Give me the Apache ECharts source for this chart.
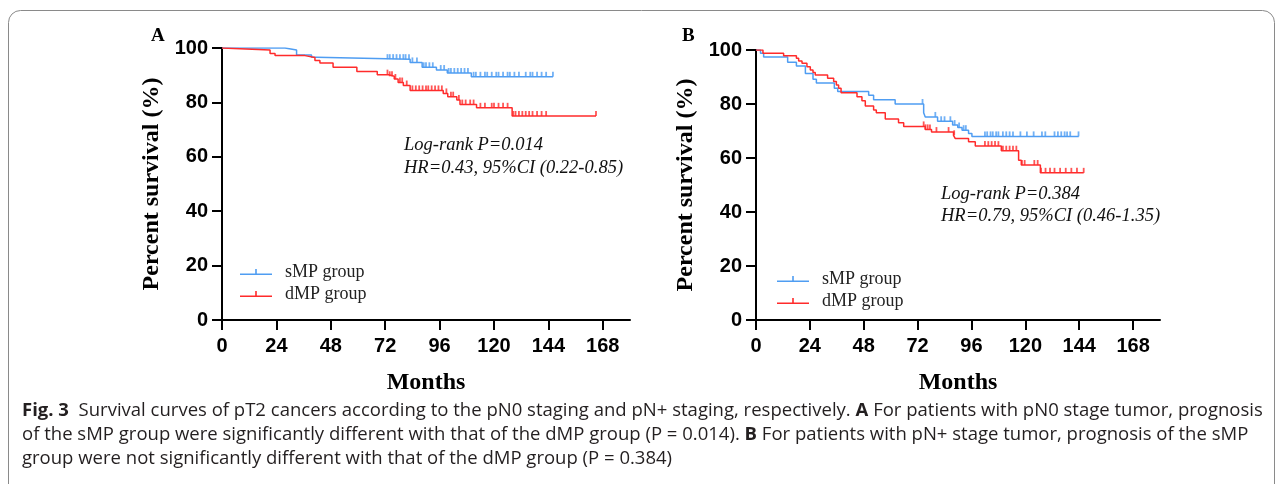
<!DOCTYPE html>
<html>
<head>
<meta charset="utf-8">
<script src="https://cdn.jsdelivr.net/npm/echarts@6/dist/echarts.min.js"></script>
<style>
  html, body { margin: 0; padding: 0; background: #fff; }
  #chart { width: 1281px; height: 484px; }
</style>
</head>
<body>
<div id="chart"></div>
<script>
// axis ticks
const monthTicks = [0, 24, 48, 72, 96, 120, 144, 168]
const percentTicks = [0, 20, 40, 60, 80, 100]

// panel A (pN0) - step points
const aSmpTime = [0, 27.8, 32.9, 39.5, 41.7, 83, 88.3, 94.6, 99.4, 110, 146]
const aSmpSurv = [100, 99.3, 97.4, 96.6, 95.9, 94.7, 92.9, 91.9, 90.8, 89.4, 89.4]
const aSmpCensor = [73, 74, 75.5, 77, 78.5, 80, 81, 82.5, 84, 86, 89, 90, 91.5, 93, 96.5, 98,
  100, 101, 102.5, 104, 105.5, 107, 108.5, 111, 112, 114, 116, 117, 119, 121, 122, 124, 126,
  127, 129, 131, 134, 136, 137, 139, 141, 143, 146]

const aDmpTime = [0, 0.5, 21.2, 23.4, 36.6, 41, 43.2, 49, 59.5, 68.5, 73.5, 76, 77.7, 80, 83,
  97.6, 99.6, 103.6, 105, 112.3, 128, 165]
const aDmpSurv = [100, 99.3, 98, 97.2, 96.5, 95.4, 94.5, 92.9, 91.4, 90.2, 89.6, 88.6, 87.3,
  86.2, 84.4, 83.3, 82.1, 80.9, 79.2, 78, 75, 75]
const aDmpCensor = [73, 74, 75, 76.5, 78.5, 79.5, 81.5, 84, 85.5, 87, 88.5, 90, 91, 92.5, 94,
  95.5, 97, 99, 101, 102, 104.5, 106, 107.5, 109.5, 111, 114, 116, 119, 120, 122, 124, 126,
  128.5, 129.5, 131, 132.5, 134, 135.5, 137, 139, 141, 143, 165]

// panel B (pN+)
const bSmpTime = [0, 2, 3.4, 14.1, 18, 22, 25.4, 26.9, 34.9, 36.4, 50.2, 52.4, 62, 74.7, 75.4,
  80.9, 87.6, 89.9, 91.8, 94.7, 96.2, 143.8]
const bSmpSurv = [100, 98.8, 97.4, 95.5, 94.1, 91.3, 89.2, 87.8, 85.8, 84.6, 83.2, 81.6, 80,
  76.8, 75.2, 73.6, 72.2, 71.3, 70.3, 69.1, 68, 68]
const bSmpCensor = [74.2, 79.9, 82.5, 84, 86.6, 88.5, 90.5, 92.5, 93.5, 102, 103, 104.5, 105.5,
  107, 108, 110, 111.5, 113, 114.5, 117.8, 120.7, 123.7, 127.4, 128.9, 133, 134.5, 136, 137.5,
  138.6, 140, 143.7]

const bDmpTime = [0, 3.1, 12.3, 18, 19, 20.5, 22.7, 24.2, 25.4, 26.4, 31.9, 34.6, 35.8, 36.8,
  37.9, 45, 47.2, 48.7, 52.4, 53.6, 57.6, 63.5, 65.8, 75.4, 78.2, 88, 88.8, 94.7, 97.7, 109.3,
  117, 118.2, 126.7, 146]
const bDmpSurv = [100, 98.8, 97.9, 96.9, 95.9, 95.1, 93.8, 92.6, 91.7, 90.7, 89.5, 88.3, 87,
  85.8, 84.2, 82.7, 81.2, 79.3, 77.8, 76.8, 74.4, 73.1, 71.7, 70.6, 69.6, 68.4, 67.2, 66, 64.4,
  62.7, 59.2, 57.4, 54.5, 54.5]
const bDmpCensor = [74.7, 75.5, 76.5, 77.5, 80.4, 85.8, 88.3, 102, 103.5, 105, 106.5, 108, 110,
  111.5, 113, 114.5, 116, 118.5, 119.7, 124, 125.5, 127, 129, 131, 133, 135.5, 138, 140.5, 143, 146]

// caption lines, *word* = bold
const captionLines = [
  '*Fig. 3* Survival curves of pT2 cancers according to the pN0 staging and pN+ staging, respectively. *A* For patients with pN0 stage tumor, prognosis',
  'of the sMP group were significantly different with that of the dMP group (P = 0.014). *B* For patients with pN+ stage tumor, prognosis of the sMP',
  'group were not significantly different with that of the dMP group (P = 0.384)'
]

const blue = '#4f9df2'
const red = '#ff2b2b'
const serif = '"Liberation Serif", "Times New Roman", serif'
const sans = '"Liberation Sans", Arial, sans-serif'
const capFamily = '"Open Sans", "Liberation Sans", sans-serif'

const pairs = (t, s) => t.map((v, i) => [v, s[i]])
const survAt = (t, s, x) => {
  let v = s[0]
  for (let i = 0; i < t.length; i++) if (t[i] <= x) v = s[i]
  return v
}
const censorPts = (c, t, s) => c.map(x => [x, survAt(t, s, x)])

const lineSeries = (name, idx, t, s, color) => ({
  name, type: 'line', step: 'end', xAxisIndex: idx, yAxisIndex: idx,
  data: pairs(t, s), symbol: 'none', silent: true,
  lineStyle: { color, width: 1.5 }, itemStyle: { color }
})
const censorSeries = (name, idx, c, t, s, color) => ({
  name, type: 'scatter', xAxisIndex: idx, yAxisIndex: idx,
  data: censorPts(c, t, s), symbol: 'rect', symbolSize: [1.8, 5], symbolOffset: [0, -2.5],
  silent: true, itemStyle: { color }
})

const xAxisCfg = (idx) => ({
  gridIndex: idx, type: 'value', min: 0, max: 180,
  name: 'Months', nameLocation: 'middle', nameGap: 51,
  nameTextStyle: { fontFamily: serif, fontWeight: 'bold', fontSize: 24, color: '#000' },
  axisLine: { lineStyle: { color: '#000', width: 2 } },
  axisTick: { customValues: monthTicks, length: 10, lineStyle: { color: '#000', width: 2 } },
  axisLabel: { customValues: monthTicks, margin: 16, fontFamily: sans, fontWeight: 'bold', fontSize: 20, color: '#000' },
  splitLine: { show: false }
})
const yAxisCfg = (idx) => ({
  gridIndex: idx, type: 'value', min: 0, max: 100, interval: 20,
  name: 'Percent survival (%)', nameLocation: 'middle', nameGap: 58,
  nameTextStyle: { fontFamily: serif, fontWeight: 'bold', fontSize: 24, color: '#000' },
  axisLine: { show: true, lineStyle: { color: '#000', width: 2 } },
  axisTick: { show: true, length: 10, lineStyle: { color: '#000', width: 2 } },
  axisLabel: { margin: 14, fontFamily: sans, fontWeight: 'bold', fontSize: 20, color: '#000' },
  splitLine: { show: false }
})

const legendIcon = 'path://M0,8.5H32V10H0Z M15.2,4H16.8V8.5H15.2Z'
const legendCfg = (left, top) => ({
  data: ['sMP group', 'dMP group'], left, top, orient: 'vertical', padding: 0,
  icon: legendIcon, itemWidth: 32, itemHeight: 6, itemGap: 4, selectedMode: false,
  textStyle: { fontFamily: serif, fontSize: 18, color: '#222', padding: [0, 0, 0, 8], lineHeight: 17 }
})

const txt = (x, y, text, font, extra) => ({
  type: 'text', x, y, silent: true,
  style: Object.assign({ text, font, fill: '#111', verticalAlign: 'middle' }, extra || {})
})

// caption: ragged right, font size fitted so the first line spans the box
const capLeft = 22
const capRight = 1264
const capY = [411, 435, 459]
const measure = document.createElement('canvas').getContext('2d')
const splitWords = (line) => {
  const words = []
  line.replace(/\*([^*]+)\*|(\S+)/g, (m, b, w) => { words.push({ text: b || w, bold: !!b }) })
  return words
}
const lineWidth = (words, size) => {
  let total = 0
  words.forEach((w, i) => {
    measure.font = (w.bold ? 'bold ' : '') + size + 'px ' + capFamily
    total += measure.measureText(w.text).width
  })
  measure.font = size + 'px ' + capFamily
  return total + measure.measureText(' ').width * words.length
}
const capSize = 16 * (capRight - capLeft) / lineWidth(splitWords(captionLines[0]), 16)
const captionGraphics = []
captionLines.forEach((line, li) => {
  const words = splitWords(line)
  measure.font = capSize + 'px ' + capFamily
  const space = measure.measureText(' ').width
  let x = capLeft
  words.forEach((w, i) => {
    const font = (w.bold ? 'bold ' : '') + capSize + 'px ' + capFamily
    measure.font = font
    captionGraphics.push(txt(x, capY[li], w.text, font, { fill: '#231f20' }))
    x += measure.measureText(w.text).width + space * (li === 0 && i === 0 ? 2 : 1)
  })
})

const option = {
  backgroundColor: '#fff',
  animation: false,
  grid: [
    { left: 222, top: 48, width: 408, height: 272 },
    { left: 756, top: 50, width: 404, height: 270 }
  ],
  xAxis: [xAxisCfg(0), xAxisCfg(1)],
  yAxis: [yAxisCfg(0), yAxisCfg(1)],
  legend: [legendCfg(240, 263), legendCfg(777, 270)],
  series: [
    lineSeries('sMP group', 0, aSmpTime, aSmpSurv, blue),
    lineSeries('dMP group', 0, aDmpTime, aDmpSurv, red),
    censorSeries('sMP censored A', 0, aSmpCensor, aSmpTime, aSmpSurv, blue),
    censorSeries('dMP censored A', 0, aDmpCensor, aDmpTime, aDmpSurv, red),
    lineSeries('sMP group', 1, bSmpTime, bSmpSurv, blue),
    lineSeries('dMP group', 1, bDmpTime, bDmpSurv, red),
    censorSeries('sMP censored B', 1, bSmpCensor, bSmpTime, bSmpSurv, blue),
    censorSeries('dMP censored B', 1, bDmpCensor, bDmpTime, bDmpSurv, red)
  ],
  graphic: [
    { type: 'rect', silent: true, shape: { x: 8.5, y: 10.5, width: 1266, height: 600, r: 12 },
      style: { fill: 'none', stroke: '#8a8a8a', lineWidth: 1 } },
    txt(151, 36, 'A', 'bold 19px ' + serif, { fill: '#000' }),
    txt(682, 36, 'B', 'bold 19px ' + serif, { fill: '#000' }),
    txt(404, 145, 'Log-rank P=0.014', 'italic 18.5px ' + serif),
    txt(404, 168, 'HR=0.43, 95%CI (0.22-0.85)', 'italic 18.5px ' + serif),
    txt(941, 194, 'Log-rank P=0.384', 'italic 18.5px ' + serif),
    txt(941, 216, 'HR=0.79, 95%CI (0.46-1.35)', 'italic 18.5px ' + serif)
  ].concat(captionGraphics)
}

const chart = echarts.init(document.getElementById('chart'), null, { renderer: 'canvas' })
chart.setOption(option)
</script>
</body>
</html>
